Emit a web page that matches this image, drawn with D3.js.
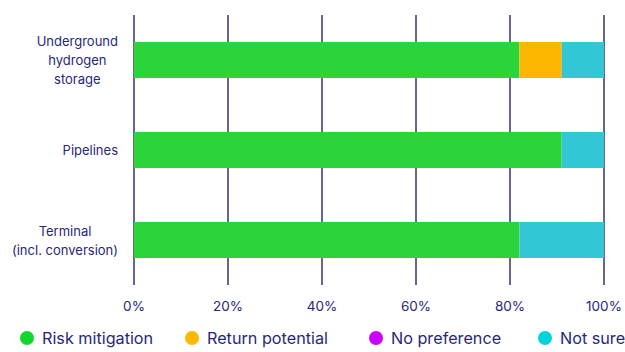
<!DOCTYPE html>
<html>
<head>
<meta charset="utf-8">
<script src="https://cdn.jsdelivr.net/npm/d3@7"></script>
<style>
  body { margin: 0; background: #fff; }
  svg { font-family: Inter, "Open Sans", sans-serif; }
</style>
</head>
<body>
<svg id="chart" width="625" height="352"></svg>
<script>
const categories = [
  ['Underground', 'hydrogen', 'storage'],
  ['Pipelines'],
  ['Terminal', '(incl. conversion)']
];
const seriesNames = ['Risk mitigation', 'Return potential', 'No preference', 'Not sure'];
const riskMitigation = [82, 91, 82];
const returnPotential = [9, 0, 0];
const noPreference = [0, 0, 0];
const notSure = [9, 9, 18];
const xTicks = [0, 20, 40, 60, 80, 100];

const barColors = ['#2cd43c', '#fdb700', '#cc00ff', '#33c6d4'];
const legendColors = ['#12d62c', '#ffb800', '#cc00ff', '#00d3da'];
const textColor = '#27277a';

const width = 625, height = 352;
const margin = { top: 15, right: 21, bottom: 67, left: 134 };

const svg = d3.select('#chart');

const x = d3.scaleLinear().domain([0, 100]).range([margin.left, width - margin.right]);
const y = d3.scaleBand()
  .domain(categories.map((d, i) => i))
  .range([margin.top, height - margin.bottom])
  .paddingInner(0.6)
  .paddingOuter(0.3);

const rows = categories.map((c, i) => ({
  idx: i,
  'Risk mitigation': riskMitigation[i],
  'Return potential': returnPotential[i],
  'No preference': noPreference[i],
  'Not sure': notSure[i]
}));
const stacked = d3.stack().keys(seriesNames)(rows);

// grid lines
svg.append('g')
  .selectAll('line')
  .data(xTicks)
  .enter()
  .append('line')
  .attr('x1', d => x(d))
  .attr('x2', d => x(d))
  .attr('y1', margin.top)
  .attr('y2', height - margin.bottom)
  .attr('stroke', '#14145e')
  .attr('stroke-width', 1.3);

// bars
svg.append('g')
  .selectAll('g')
  .data(stacked)
  .enter()
  .append('g')
  .attr('fill', (d, i) => barColors[i])
  .selectAll('rect')
  .data(d => d)
  .enter()
  .append('rect')
  .attr('x', d => x(d[0]))
  .attr('y', d => y(d.data.idx))
  .attr('width', d => x(d[1]) - x(d[0]))
  .attr('height', y.bandwidth());

// x tick labels
svg.append('g')
  .selectAll('text')
  .data(xTicks)
  .enter()
  .append('text')
  .attr('x', d => x(d))
  .attr('y', height - margin.bottom + 26)
  .attr('text-anchor', 'middle')
  .attr('font-size', 13.5)
  .attr('fill', textColor)
  .text(d => d + '%');

// category labels: centered block, right edge aligned
const lineH = 19;
categories.forEach((lines, i) => {
  const cy = y(i) + y.bandwidth() / 2;
  const g = svg.append('g');
  const texts = g.selectAll('text')
    .data(lines)
    .enter()
    .append('text')
    .attr('y', (d, j) => cy + (j - (lines.length - 1) / 2) * lineH + 5)
    .attr('text-anchor', 'middle')
    .attr('font-size', 13)
    .attr('fill', textColor)
    .text(d => d);
  let maxW = 0;
  texts.each(function() { maxW = Math.max(maxW, this.getComputedTextLength()); });
  texts.attr('x', margin.left - 16 - maxW / 2);
});

// legend
const legendX = [27, 192, 376, 545];
const legend = svg.append('g')
  .selectAll('g')
  .data(seriesNames)
  .enter()
  .append('g')
  .attr('transform', (d, i) => `translate(${legendX[i]}, ${height - 9})`);
legend.append('circle')
  .attr('r', 7)
  .attr('cy', -5)
  .attr('fill', (d, i) => legendColors[i]);
legend.append('text')
  .attr('x', 15)
  .attr('y', 1)
  .attr('font-size', 16.2)
  .attr('fill', textColor)
  .text(d => d);
</script>
</body>
</html>
